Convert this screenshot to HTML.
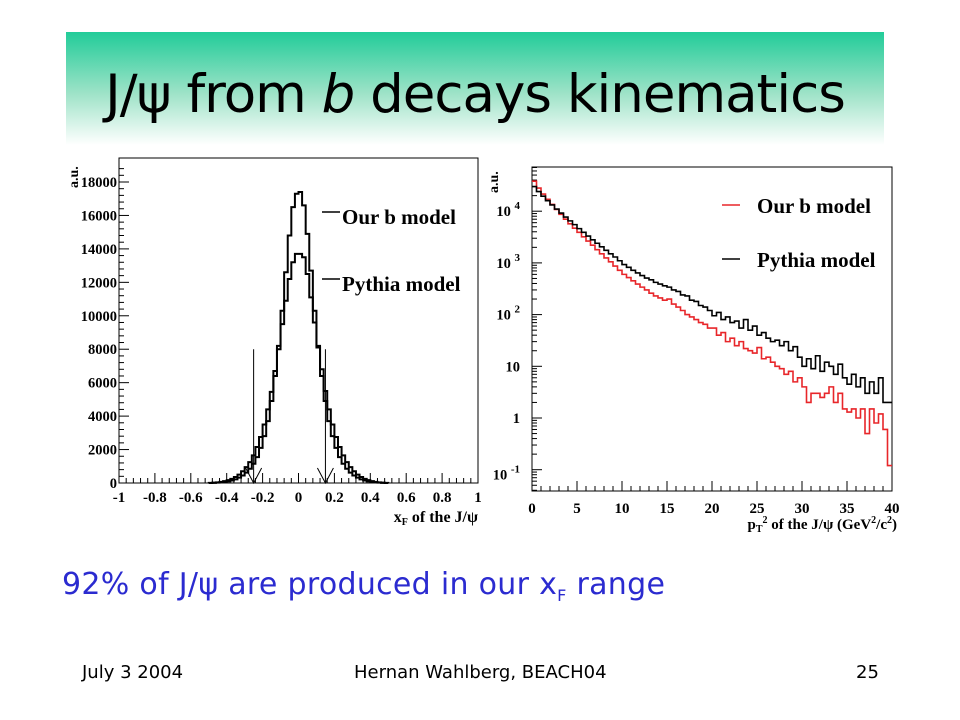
<!DOCTYPE html>
<html><head><meta charset="utf-8">
<style>
body{margin:0;width:960px;height:720px;background:#fff;overflow:hidden;position:relative;font-family:"Liberation Sans",sans-serif}
#band{position:absolute;left:66px;top:32px;width:818px;height:113px;background:linear-gradient(#22cc99,#9fe3c8 55%,#fff)}
#title{position:absolute;left:66px;top:64px;width:818px;text-align:center;font-size:53px;color:#000;font-family:"DejaVu Sans","Liberation Sans",sans-serif;letter-spacing:-1px}
#note{position:absolute;left:62px;top:567px;font-size:30px;color:#2b2bd0;font-family:"DejaVu Sans","Liberation Sans",sans-serif;letter-spacing:0.3px}
.foot{position:absolute;top:662px;font-size:18px;color:#000;font-family:"DejaVu Sans","Liberation Sans",sans-serif}
svg{position:absolute;left:0;top:0}
svg text{font-family:"Liberation Serif",serif;font-weight:bold}
</style></head><body>
<div id="band"></div>
<div id="title">J/ψ from <i>b</i> decays kinematics</div>
<svg id="chart" width="960" height="720"></svg>
<div id="note">92% of J/ψ are produced in our x<sub style="font-size:16px">F</sub> range</div>
<div class="foot" style="left:82px">July 3 2004</div>
<div class="foot" style="left:354px">Hernan Wahlberg, BEACH04</div>
<div class="foot" style="left:856px">25</div>
<script>
// Left chart data: xF bins (width 0.02) from -0.5 to 0.5
const xfStart = -0.5;
const xfBinWidth = 0.02;
const ourB = [0,10,20,40,60,100,150,220,320,450,620,850,1150,1550,2100,2800,3700,4900,6400,8200,10300,12600,14800,16500,17300,17400,16600,14900,12700,10300,8200,6400,4900,3700,2800,2100,1550,1150,850,620,450,320,220,150,100,60,40,20,10,0];
const pythiaXF = [10,20,40,70,110,170,250,360,500,700,950,1250,1650,2150,2750,3500,4400,5450,6700,8000,9500,10900,12200,13200,13700,13700,13500,12500,11100,9600,8100,6800,5500,4400,3500,2750,2150,1650,1250,950,700,500,360,250,170,110,70,40,20,10];
const xfTicks = [-1,-0.8,-0.6,-0.4,-0.2,0,0.2,0.4,0.6,0.8,1];
const yTicksL = [0,2000,4000,6000,8000,10000,12000,14000,16000,18000];
const cuts = [-0.25,0.15];
// Right chart data: pT^2 bins (width 0.5) from 0 to 40
const ptBinWidth = 0.5;
const ourBpt = [38000,28000,21500,17000,13500,10800,8700,7000,5700,4700,3900,3200,2650,2200,1800,1500,1250,1050,870,720,600,520,450,390,340,300,260,230,210,190,200,160,140,120,100,90,80,70,65,55,55,40,45,30,35,25,30,22,20,18,23,14,15,12,10,9,7,8,5,6,4,2,3,3,2.5,3,4,2,3,1.5,1.3,1.5,1,1.5,0.5,1.5,0.8,1.2,0.6,0.12];
const pythiaPt = [30000,24000,19500,16000,13200,11000,9200,7700,6500,5500,4600,3900,3300,2800,2400,2050,1750,1500,1300,1100,930,820,720,640,570,510,470,420,390,360,340,300,280,240,230,190,180,150,140,120,95,110,80,90,70,75,55,80,50,60,40,45,35,30,32,25,30,20,24,15,10,14,9,16,8,12,10,7,11,6,4.5,7,4,6,3,5,3,6,2,2];
const ptTicks = [0,5,10,15,20,25,30,35,40];
const logTicks = [4,3,2,1,0,-1];

const svg = document.getElementById('chart');
const NS = 'http://www.w3.org/2000/svg';
function mk(tag, attrs, parent){const e=document.createElementNS(NS,tag);for(const k in attrs)e.setAttribute(k,attrs[k]);(parent||svg).appendChild(e);return e;}

// ---- Left chart
const L = {x0:119,x1:478,y0:483,y1:158};
const lx = v => L.x0 + (v+1)/2*(L.x1-L.x0);
const ly = v => 483 - v/18000*(483-182);
let f = mk('rect',{x:L.x0,y:L.y1,width:L.x1-L.x0,height:L.y0-L.y1,fill:'none',stroke:'#000','stroke-width':1});


for(let i=0;i<=50;i++){const v=-1+i*0.04;const major=Math.abs(v*5-Math.round(v*5))<1e-6;
 mk('line',{x1:lx(v),x2:lx(v),y1:L.y0,y2:L.y0-(major?10:5),stroke:'#000','stroke-width':1});}
xfTicks.forEach(v=>{const t=mk('text',{x:lx(v),y:502,'font-size':15,'text-anchor':'middle'});t.textContent=String(v);
 
 });
for(let v=0;v<=19000;v+=400){const major=v%2000===0;mk('line',{x1:L.x0,x2:L.x0+(major?10:5),y1:ly(v),y2:ly(v),stroke:'#000','stroke-width':1});}
yTicksL.forEach(v=>{const t=mk('text',{x:117,y:ly(v)+5,'font-size':14.5,'text-anchor':'end'});t.textContent=v;
 
 });
function stepPath(arr,start,w,xf,yf){let d='M'+xf(start)+','+yf(0);arr.forEach((v,i)=>{d+=' L'+xf(start+i*w)+','+yf(v)+' L'+xf(start+(i+1)*w)+','+yf(v);});d+=' L'+xf(start+arr.length*w)+','+yf(0);return d;}
let p1=mk('path',{d:stepPath(pythiaXF,xfStart,xfBinWidth,lx,ly),fill:'none',stroke:'#000','stroke-width':2});


let p2=mk('path',{d:stepPath(ourB,xfStart,xfBinWidth,lx,ly),fill:'none',stroke:'#000','stroke-width':2});


cuts.forEach(c=>{const g=mk('g',{});
 
 
 mk('line',{x1:lx(c),x2:lx(c),y1:ly(8000),y2:L.y0,stroke:'#000','stroke-width':1},g);
 mk('path',{d:`M${lx(c)-8},${L.y0-15} L${lx(c)},${L.y0} L${lx(c)+8},${L.y0-15}`,fill:'none',stroke:'#000','stroke-width':1},g);});
let t;
t=mk('text',{x:478,y:522,'font-size':16,'text-anchor':'end'});t.innerHTML='x<tspan font-size="10" dy="3">F</tspan><tspan dy="-3"> of the J/ψ</tspan>';


t=mk('text',{x:0,y:0,'font-size':14,transform:'translate(78,188) rotate(-90)'});t.textContent='a.u.';


[['Our b model',217],['Pythia model',284]].forEach(([s,y])=>{const g=mk('g',{});
 
 
 mk('line',{x1:322,x2:340,y1:y-5,y2:y-5,stroke:'#000','stroke-width':1.5},g);
 const tt=mk('text',{x:342,y:y+7,'font-size':21},g);tt.textContent=s;});

// ---- Right chart
const R = {x0:532,x1:892,y0:491,y1:167};
const rx = v => R.x0 + v/40*(R.x1-R.x0);
const ry = v => 418 - Math.log10(Math.max(v,0.04))*51.7;
const ryl = e => 418 - e*51.7;
f = mk('rect',{x:R.x0,y:R.y1,width:R.x1-R.x0,height:R.y0-R.y1,fill:'none',stroke:'#000','stroke-width':1});


for(let i=0;i<=40;i++){mk('line',{x1:rx(i),x2:rx(i),y1:R.y0,y2:R.y0-(i%5===0?10:5),stroke:'#000','stroke-width':1});}
ptTicks.forEach(v=>{const tt=mk('text',{x:rx(v),y:513,'font-size':15,'text-anchor':'middle'});tt.textContent=v;
 
 });
for(let e=-2;e<=4;e++){for(let m=1;m<=9;m++){const y=ryl(e+Math.log10(m));if(y<R.y1||y>R.y0)continue;
 mk('line',{x1:R.x0,x2:R.x0+(m===1?10:5),y1:y,y2:y,stroke:'#000','stroke-width':1});}}
logTicks.forEach(e=>{const tt=mk('text',{x:520,y:ryl(e)+5,'font-size':14.5,'text-anchor':'end'});
 if(e===0)tt.textContent='1';else if(e===1)tt.textContent='10';else tt.innerHTML='10 <tspan font-size="11" dy="-7">'+e+'</tspan>';
 if(e<0){tt.setAttribute('y',ryl(e)+10);}
 
 });
function stepPathR(arr,w){let d='M'+rx(0)+','+ry(arr[0]);arr.forEach((v,i)=>{d+=' L'+rx(i*w)+','+ry(v)+' L'+rx((i+1)*w)+','+ry(v);});return d;}
let q1=mk('path',{d:stepPathR(ourBpt,ptBinWidth),fill:'none',stroke:'#e8262a','stroke-width':1.6});


let q2=mk('path',{d:stepPathR(pythiaPt,ptBinWidth),fill:'none',stroke:'#000','stroke-width':1.6});


t=mk('text',{x:897,y:529,'font-size':15,'text-anchor':'end'});t.innerHTML='p<tspan font-size="10" dy="3">T</tspan><tspan font-size="10" dy="-9">2</tspan><tspan dy="6"> of the J/ψ  (GeV</tspan><tspan font-size="10" dy="-6">2</tspan><tspan dy="6">/c</tspan><tspan font-size="10" dy="-6">2</tspan><tspan dy="6">)</tspan>';


t=mk('text',{x:0,y:0,'font-size':14,transform:'translate(498,193) rotate(-90)'});t.textContent='a.u.';


[['Our b model',205,'#e8262a'],['Pythia model',259,'#000']].forEach(([s,y,c])=>{const g=mk('g',{});
 
 
 mk('line',{x1:722,x2:740,y1:y,y2:y,stroke:c,'stroke-width':1.5},g);
 const tt=mk('text',{x:757,y:y+8,'font-size':21},g);tt.textContent=s;});
</script>
</body></html>
